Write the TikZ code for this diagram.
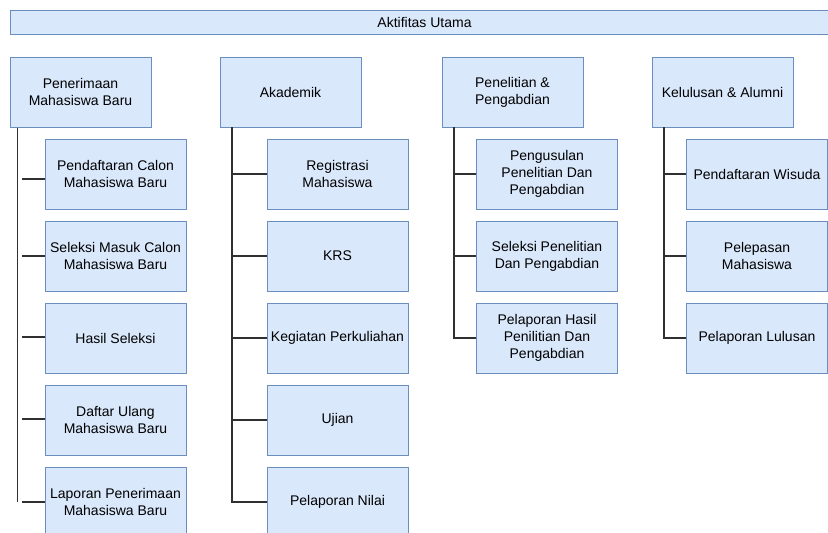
\documentclass[tikz,border=0pt]{standalone}
\usepackage{fontspec}
\setmainfont{Liberation Sans}
\begin{document}
\begin{tikzpicture}[x=1pt,y=-1pt,
  box/.style={draw=boxline,fill=boxfill,line width=1pt,rectangle,inner sep=0pt,
    minimum width=141pt,minimum height=70pt,align=center,
    font=\fontsize{14pt}{17pt}\selectfont},
  bar/.style={draw=boxline,fill=boxfill,line width=1pt,rectangle,inner sep=0pt,
    minimum width=829pt,minimum height=24pt,font=\fontsize{14pt}{17pt}\selectfont},
  link/.style={draw=linkcol,line width=1.1pt}]
\definecolor{boxfill}{HTML}{DAE8FC}
\definecolor{boxline}{HTML}{6C8EBF}
\definecolor{linkcol}{HTML}{303030}
\useasboundingbox (0,0) rectangle (828,533);

% header bar
\node[bar] (top) at (424.5,22) {Aktifitas Utama};

% main groups
\node[box] (g1) at (80.5,92) {Penerimaan\\Mahasiswa Baru};
\node[box] (g2) at (290.5,92) {Akademik};
\node[box] (g3) at (512.5,92) {Penelitian \&\\Pengabdian};
\node[box] (g4) at (722.5,92) {Kelulusan \& Alumni};

% group 1 activities
\node[box] (a1) at (115.5,174) {Pendaftaran Calon\\Mahasiswa Baru};
\node[box] (a2) at (115.5,256) {Seleksi Masuk Calon\\Mahasiswa Baru};
\node[box] (a3) at (115.5,338) {Hasil Seleksi};
\node[box] (a4) at (115.5,420) {Daftar Ulang\\Mahasiswa Baru};
\node[box] (a5) at (115.5,502) {Laporan Penerimaan\\Mahasiswa Baru};

% group 2 activities
\node[box] (b1) at (337.5,174) {Registrasi\\Mahasiswa};
\node[box] (b2) at (337.5,256) {KRS};
\node[box] (b3) at (337.5,338) {Kegiatan Perkuliahan};
\node[box] (b4) at (337.5,420) {Ujian};
\node[box] (b5) at (337.5,502) {Pelaporan Nilai};

% group 3 activities
\node[box] (c1) at (547,174) {Pengusulan\\Penelitian Dan\\Pengabdian};
\node[box] (c2) at (547,256) {Seleksi Penelitian\\Dan Pengabdian};
\node[box] (c3) at (547,338) {Pelaporan Hasil\\Penilitian Dan\\Pengabdian};

% group 4 activities
\node[box] (d1) at (757,174) {Pendaftaran Wisuda};
\node[box] (d2) at (757,256) {Pelepasan\\Mahasiswa};
\node[box] (d3) at (757,338) {Pelaporan Lulusan};

% group 1: spine and short branches
\coordinate (s1) at ([xshift=-63pt]g1.south);
\draw[link] (s1) -- ++(0,374);
\foreach \n/\yy in {a1/179,a2/256,a3/337,a4/419,a5/502}
  \draw[link] (22,\yy) -- (\n.west |- 0,\yy);

% groups 2-4: elbow connectors
\foreach \g/\xx/\kids in {g2/232/{b1,b2,b3,b4,b5},g3/454/{c1,c2,c3},g4/664/{d1,d2,d3}}
  \foreach \k in \kids
    \draw[link] (\xx,127) |- (\k.west);
\end{tikzpicture}
\end{document}
